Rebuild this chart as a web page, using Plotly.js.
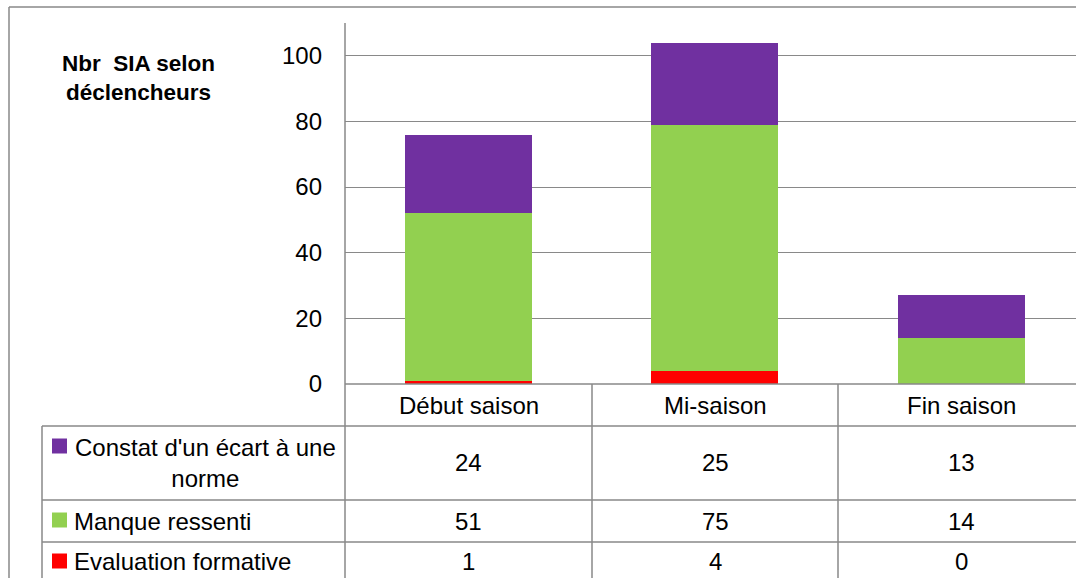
<!DOCTYPE html>
<html>
<head>
<meta charset="utf-8">
<script src="https://cdn.plot.ly/plotly-3.0.1.min.js"></script>
<style>html,body{margin:0;padding:0;overflow:hidden;background:#fff;}#chart{width:1076px;height:578px;}</style>
</head>
<body>
<div id="chart"></div>
<script>
const categories = ['Début saison', 'Mi-saison', 'Fin saison'];
const constat = [24, 25, 13];
const manque = [51, 75, 14];
const evaluation = [1, 4, 0];
const seriesNames = ["Constat d'un écart à une norme", 'Manque ressenti', 'Evaluation formative'];
const tableLabels = ["Constat d'un écart à une<br>norme", 'Manque ressenti', 'Evaluation formative'];
const seriesColors = ['#7030A0', '#92D050', '#FF0000'];
const yTitle = 'Nbr\u00a0 SIA selon<br>déclencheurs';

const W = 1076, H = 578;
const L = 345, T = 23, B0 = 384; // plot left, top, zero baseline (pixels)
const plotW = W - L, plotH = B0 - T;
const px = p => (p - L) / plotW;
const py = p => (B0 - p) / plotH;
const FONT = 'Liberation Sans, Arial, sans-serif';
const gray = '#898989';
const FS = 24;

const tableSeries = [constat, manque, evaluation];

const traces = [
  {type: 'bar', name: seriesNames[2], x: categories, y: evaluation, marker: {color: seriesColors[2]}},
  {type: 'bar', name: seriesNames[1], x: categories, y: manque, marker: {color: seriesColors[1]}},
  {type: 'bar', name: seriesNames[0], x: categories, y: constat, marker: {color: seriesColors[0]}}
];

const shapes = [];
const line = (x0, y0, x1, y1, w) => shapes.push({type: 'line', xref: 'paper', yref: 'paper',
  x0: px(x0), y0: py(y0), x1: px(x1), y1: py(y1), line: {color: gray, width: w || 1.5}});
// outer chart border
line(9, 7, W + 5, 7, 1.5);
line(9, 7, 9, H + 5, 1.5);
// axis / table grid
line(L, T, L, H + 5);
line(L, B0, W + 5, B0);
const rowY = [426, 500, 542];
rowY.forEach(y => line(42, y, W + 5, y));
line(42, 426, 42, H + 5);
const colEdges = [592, 838];
colEdges.forEach(x => line(x, B0, x, H + 5));

const annotations = [];
const ann = (text, x, y, xanchor, opts) => annotations.push(Object.assign({
  text, xref: 'paper', yref: 'paper', x: px(x), y: py(y), xanchor: xanchor || 'center', yanchor: 'middle',
  showarrow: false, font: {family: FONT, size: FS, color: '#000'}
}, opts || {}));

// y title
ann(yTitle, 138.5, 78, 'center', {font: {family: FONT, size: 22.5, color: '#000', weight: 'bold'}, align: 'center'});

// category header row
const colCenters = [468.5, 715, 961];
categories.forEach((c, i) => ann(c, colCenters[i], 405));

// table rows
const rowCenters = [463, 521, 561];
const markerY = [446, 520, 561];
tableSeries.forEach((vals, r) => {
  vals.forEach((v, i) => ann(String(v), colCenters[i], rowCenters[r]));
  shapes.push({type: 'rect', xref: 'paper', yref: 'paper', x0: px(52), x1: px(67),
    y0: py(markerY[r] - 7.5), y1: py(markerY[r] + 7.5), fillcolor: seriesColors[r], line: {width: 0}});
});
ann(tableLabels[0], 205.5, 463, 'center', {align: 'center'});
ann(tableLabels[1], 72, 521, 'left');
ann(tableLabels[2], 72, 561, 'left');

const layout = {
  width: W, height: H,
  margin: {l: L, r: 0, t: T, b: H - B0, pad: 0},
  paper_bgcolor: '#fff', plot_bgcolor: '#fff',
  barmode: 'stack', bargap: 0.485,
  showlegend: false,
  font: {family: FONT, size: FS, color: '#000'},
  xaxis: {range: [-0.5, 2.5 - (L + 3 * 246.5 - W) / 246.5], showticklabels: false, showgrid: false,
    zeroline: false, showline: false, ticks: '', fixedrange: true},
  yaxis: {range: [0, 110], dtick: 20, tick0: 0, showgrid: true, gridcolor: gray, gridwidth: 1,
    zeroline: false, showline: false, ticks: '', ticklabelstandoff: 22,
    tickfont: {family: FONT, size: FS, color: '#000'}, fixedrange: true},
  shapes, annotations
};

Plotly.newPlot('chart', traces, layout, {displayModeBar: false, staticPlot: true});
</script>
</body>
</html>
